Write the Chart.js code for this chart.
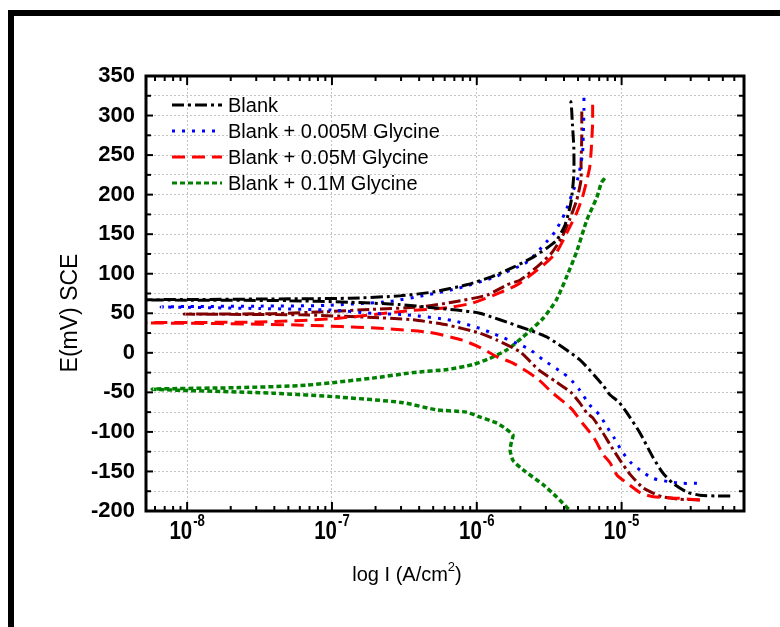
<!DOCTYPE html>
<html>
<head>
<meta charset="utf-8">
<script src="https://cdn.jsdelivr.net/npm/chart.js@4"></script>
<style>
  body { margin: 0; background: #fff; }
</style>
</head>
<body>
<canvas id="grafico" width="780" height="627"></canvas>
<script>
// Curvas de Tafel: log10 de I (A/cm2) y E (mV SCE),
// cada curva desde el extremo catodico hasta el extremo anodico
const blankLogI = [-4.25, -4.34, -4.46, -4.55, -4.645, -4.715, -4.784, -4.874, -4.963, -5.02, -5.081, -5.129, -5.288, -5.516, -5.703, -5.979, -6.138, -6.304, -6.532, -6.878, -7.3, -7.9, -8.4,
  -7.9, -7.5, -6.88, -6.53, -6.30, -6.07, -5.9, -5.75, -5.62, -5.52, -5.45, -5.39, -5.35, -5.33, -5.33, -5.34, -5.35, -5.37];
const blankE = [-181, -181, -180, -176, -165, -152, -132, -101, -76, -62, -53, -41, -9, 20, 33, 50, 54, 57, 61, 64, 66, 66.5, 67,
  67.5, 68, 69, 72, 77, 86, 96, 108, 120, 132, 142, 162, 190, 225, 260, 290, 317, 320];

const gly005LogI = [-4.48, -4.58, -4.67, -4.78, -4.86, -4.94, -5.0, -5.05, -5.1, -5.15, -5.22, -5.29, -5.36, -5.41, -5.54, -5.65, -5.91, -5.98, -6.17, -6.48, -6.72, -7.0, -7.5, -8.0, -8.18,
  -8.0, -7.5, -7.04, -6.6, -6.35, -6.12, -5.89, -5.65, -5.52, -5.46, -5.39, -5.34, -5.3, -5.27, -5.265, -5.26, -5.26];
const gly005E = [-165, -165, -163, -159, -150, -138, -124, -108, -94, -79, -66, -47, -32, -25, -9, 6, 26, 31, 41, 48, 50, 54, 56, 57.5, 58,
  58.5, 59, 60, 65, 73, 82, 95, 115, 140, 153, 177, 202, 222, 252, 273, 307, 323];

const gly05LogI = [-4.46, -4.6, -4.78, -4.87, -4.96, -5.03, -5.08, -5.13, -5.17, -5.2, -5.27, -5.34, -5.38, -5.475, -5.585, -5.75, -5.86, -5.98, -6.1, -6.33, -6.67, -7.2, -7.8, -8.4,
  -7.5, -7.0, -6.48, -6.2, -6.03, -5.84, -5.72, -5.63, -5.54, -5.45, -5.38, -5.31, -5.27, -5.24, -5.22, -5.21, -5.2, -5.2, -5.2];
const gly05E = [-186, -184, -182, -177, -165, -155, -139, -128, -114, -105, -89, -72, -65, -51, -32, -13, -5, 7, 16, 26, 31, 35, 37, 38,
  39, 43, 53, 57, 63, 76, 86, 98, 111, 127, 151, 177, 197, 218, 235, 256, 290, 305, 320];

// curva granate (sin entrada en la leyenda)
const granateLogI = [-4.46, -4.6, -4.72, -4.85, -4.94, -5.01, -5.07, -5.13, -5.2, -5.24, -5.29, -5.35, -5.45, -5.57, -5.70, -5.86, -5.98, -6.2, -6.45, -6.75, -7.22, -8.02,
  -7.41, -7.04, -6.72, -6.39, -6.17, -5.93, -5.79, -5.70, -5.57, -5.48, -5.41, -5.36, -5.31, -5.28, -5.28, -5.275, -5.275];
const granateE = [-186, -185, -182, -171, -154, -136, -119, -101, -82, -76, -63, -50, -37, -22, 1, 16, 25, 35, 42, 45, 48, 49,
  49.5, 52, 55, 58, 64, 73, 86, 92, 111, 127, 147, 168, 193, 219, 240, 273, 310];

const gly01LogI = [-5.33, -5.36, -5.45, -5.54, -5.68, -5.75, -5.77, -5.76, -5.75, -5.80, -5.86, -5.98, -6.07, -6.28, -6.51, -6.95, -7.41, -8.24,
  -7.64, -7.18, -6.72, -6.44, -6.2, -6.03, -5.91, -5.79, -5.65, -5.54, -5.45, -5.38, -5.31, -5.24, -5.17, -5.14, -5.115];
const gly01E = [-205, -199, -182, -167, -148, -136, -123, -112, -104, -96, -89, -81, -75, -72, -63, -56, -51, -46,
  -44, -41, -32, -25, -21, -15, -7, 4, 25, 44, 67, 96, 128, 168, 197, 215, 221];

const etiquetas = ["Blank", "Blank + 0.005M Glycine", "Blank + 0.05M Glycine", "Blank + 0.1M Glycine"];
const decadas = [-8, -7, -6, -5];

const FUENTE = "'Liberation Sans', Arial, sans-serif";

const puntos = (logI, e) => logI.map((l, i) => ({ x: Math.pow(10, l), y: e[i] }));

const serie = (label, logI, e, color, dash, ancho) => ({
  label,
  data: puntos(logI, e),
  showLine: true,
  borderColor: color,
  backgroundColor: color,
  borderWidth: ancho,
  borderDash: dash,
  pointRadius: 0,
  tension: 0.2,
  fill: false
});

const marco = {
  id: "marco",
  beforeDraw(chart) {
    const ctx = chart.ctx;
    ctx.save();
    ctx.fillStyle = "#fff";
    ctx.fillRect(0, 0, chart.width, chart.height);
    ctx.fillStyle = "#000";
    ctx.fillRect(8, 10, chart.width - 8, 6);
    ctx.fillRect(8, 10, 6, chart.height - 10);
    ctx.restore();
  },
  afterDraw(chart) {
    const { ctx, chartArea: a, scales } = chart;
    const ex = scales.x, ey = scales.y;
    const linea = (x1, y1, x2, y2) => {
      ctx.beginPath(); ctx.moveTo(x1, y1); ctx.lineTo(x2, y2); ctx.stroke();
    };
    ctx.save();
    ctx.strokeStyle = "#000";
    ctx.lineWidth = 2;
    ctx.setLineDash([]);

    // marcas hacia dentro en los cuatro lados
    ex.ticks.forEach(t => {
      const px = ex.getPixelForValue(t.value);
      const largo = t.major ? 9 : 5;
      linea(px, a.bottom, px, a.bottom - largo);
      linea(px, a.top, px, a.top + largo);
    });
    ey.ticks.forEach(t => {
      const py = ey.getPixelForValue(t.value);
      const largo = t.value % 50 === 0 ? 7 : 5;
      linea(a.left, py, a.left + largo, py);
      linea(a.right, py, a.right - largo, py);
    });
    ctx.lineWidth = 3;
    ctx.strokeRect(a.left, a.top, a.right - a.left, a.bottom - a.top);

    // etiquetas 10^n del eje x (letra algo estrecha)
    ctx.fillStyle = "#000";
    ctx.textBaseline = "alphabetic";
    ctx.textAlign = "left";
    const estrecho = 0.82;
    decadas.forEach(d => {
      const px = ex.getPixelForValue(Math.pow(10, d));
      ctx.font = "bold 25px " + FUENTE;
      const w1 = ctx.measureText("10").width * estrecho;
      ctx.font = "bold 16px " + FUENTE;
      const sup = String(d);
      const w2 = ctx.measureText(sup).width * estrecho;
      const x0 = px - (w1 + w2 + 1) / 2;
      ctx.save();
      ctx.translate(x0, 0);
      ctx.scale(estrecho, 1);
      ctx.font = "bold 25px " + FUENTE;
      ctx.fillText("10", 0, 539);
      ctx.font = "bold 16px " + FUENTE;
      ctx.fillText(sup, (w1 + 1) / estrecho, 526);
      ctx.restore();
    });

    // titulo eje x
    ctx.font = "20px " + FUENTE;
    const t1 = "log I (A/cm", t3 = ")";
    const a1 = ctx.measureText(t1).width, a3 = ctx.measureText(t3).width;
    ctx.font = "13px " + FUENTE;
    const a2 = ctx.measureText("2").width;
    let xt = 407 - (a1 + a2 + a3) / 2;
    ctx.font = "20px " + FUENTE;
    ctx.fillText(t1, xt, 581);
    ctx.font = "13px " + FUENTE;
    ctx.fillText("2", xt + a1, 571);
    ctx.font = "20px " + FUENTE;
    ctx.fillText(t3, xt + a1 + a2, 581);

    // titulo eje y
    ctx.save();
    ctx.translate(71, 313);
    ctx.rotate(-Math.PI / 2);
    ctx.textAlign = "center";
    ctx.textBaseline = "middle";
    ctx.font = "23px " + FUENTE;
    ctx.fillText("E(mV) SCE", 0, 0);
    ctx.restore();

    // leyenda
    let fila = 0;
    chart.data.datasets.forEach(ds => {
      if (!ds.label) return;
      const yy = 105 + fila * 26;
      ctx.strokeStyle = ds.borderColor;
      ctx.lineWidth = 3;
      ctx.setLineDash(ds.borderDash || []);
      linea(172, yy, 222, yy);
      ctx.setLineDash([]);
      ctx.fillStyle = "#000";
      ctx.font = "20px " + FUENTE;
      ctx.textBaseline = "middle";
      ctx.fillText(ds.label, 228, yy + 1);
      fila++;
    });
    ctx.restore();
  }
};

new Chart(document.getElementById("grafico"), {
  type: "scatter",
  data: {
    datasets: [
      serie(etiquetas[0], blankLogI, blankE, "#000000", [12, 4, 3, 4], 3),
      serie(etiquetas[1], gly005LogI, gly005E, "#0000ff", [3, 7], 3),
      serie(etiquetas[2], gly05LogI, gly05E, "#ff0000", [13, 7], 3),
      serie("", granateLogI, granateE, "#800000", [12, 4, 3, 4], 3),
      serie(etiquetas[3], gly01LogI, gly01E, "#008000", [5, 3], 3.5)
    ]
  },
  options: {
    responsive: false,
    animation: false,
    layout: { padding: { top: 76, right: 36, left: 0, bottom: 0 } },
    plugins: {
      legend: { display: false },
      tooltip: { enabled: false }
    },
    scales: {
      x: {
        type: "logarithmic",
        min: 5.2e-9,
        max: 7e-5,
        afterBuildTicks: (escala) => {
          const marcas = [];
          for (let d = -9; d <= -5; d++) {
            for (let m = 1; m <= 9; m++) {
              const v = m * Math.pow(10, d);
              if (v >= escala.min && v <= escala.max) marcas.push({ value: v, major: m === 1 });
            }
          }
          escala.ticks = marcas;
        },
        afterFit: (escala) => { escala.height = 116; },
        ticks: { display: false },
        grid: {
          drawTicks: false,
          lineWidth: 1,
          color: (c) => (c.tick && c.tick.major ? "#c4c4c4" : "rgba(0,0,0,0)")
        },
        border: { display: false, dash: [2, 2] }
      },
      y: {
        min: -200,
        max: 350,
        afterFit: (escala) => { escala.width = 146; },
        ticks: {
          stepSize: 25,
          autoSkip: false,
          padding: 11,
          color: "#000",
          font: { family: FUENTE, size: 22, weight: "bold" },
          callback: (v) => (v % 50 === 0 ? String(v) : "")
        },
        grid: { drawTicks: false, lineWidth: 1, color: "#c4c4c4" },
        border: { display: false, dash: [2, 2] }
      }
    }
  },
  plugins: [marco]
});
</script>
</body>
</html>
